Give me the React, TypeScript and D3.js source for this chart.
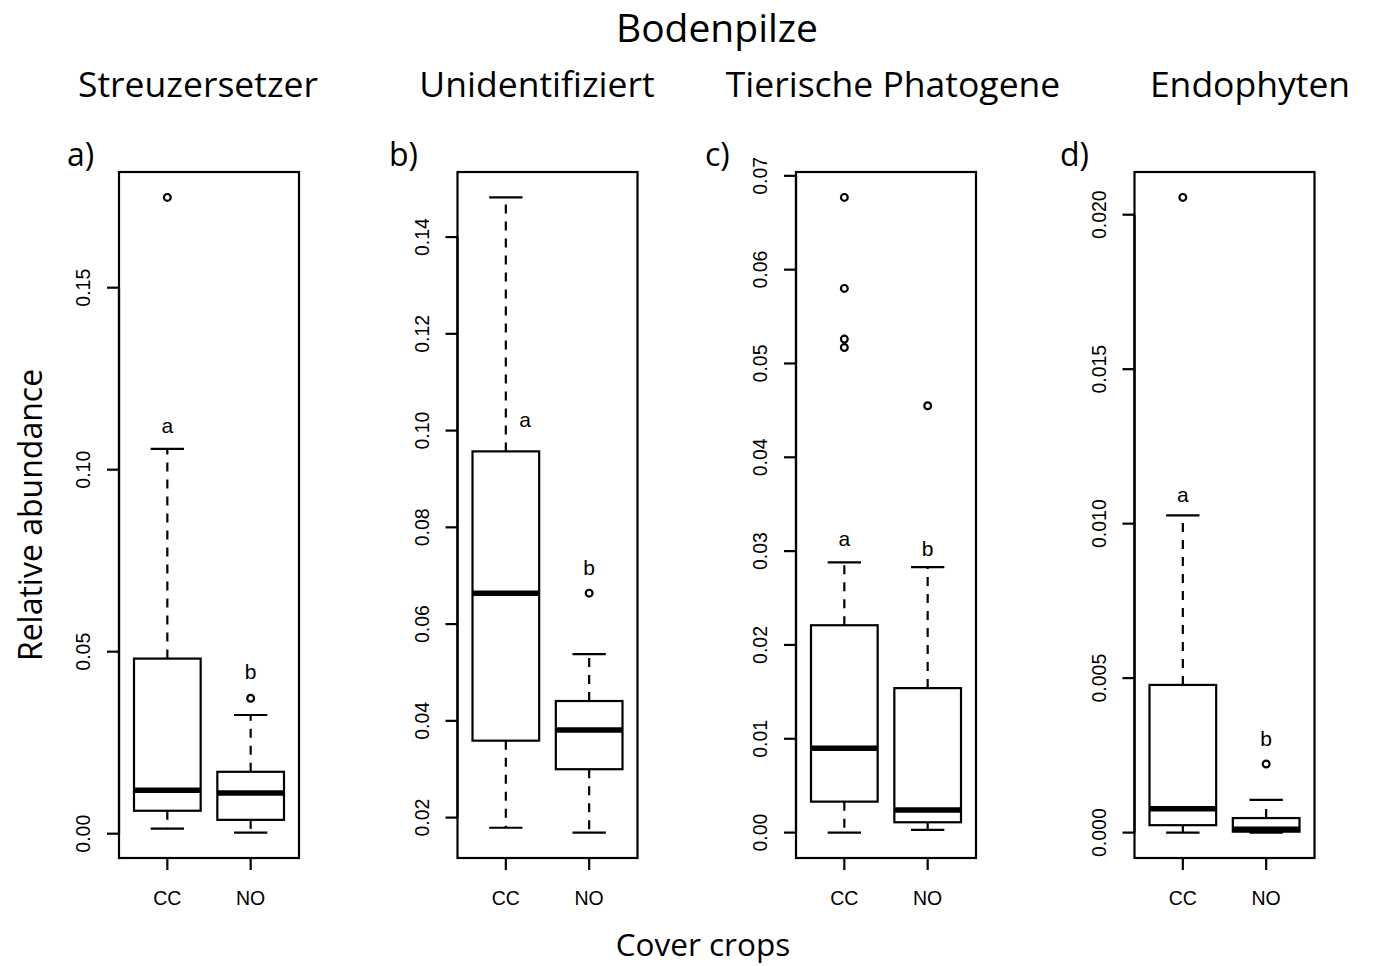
import React from "react";
import * as d3 from "d3";

// Panel headings and tags
const mainTitle = "Bodenpilze";
const panelTitles = ["Streuzersetzer", "Unidentifiziert", "Tierische Phatogene", "Endophyten"];
const panelTags = ["a)", "b)", "c)", "d)"];
const groups = ["CC", "NO"];
const yLabel = "Relative abundance";
const xLabel = "Cover crops";

// Tick values and labels per panel
const ticksA = [0, 0.05, 0.1, 0.15];
const tickLabelsA = ["0.00", "0.05", "0.10", "0.15"];
const ticksB = [0.02, 0.04, 0.06, 0.08, 0.1, 0.12, 0.14];
const tickLabelsB = ["0.02", "0.04", "0.06", "0.08", "0.10", "0.12", "0.14"];
const ticksC = [0, 0.01, 0.02, 0.03, 0.04, 0.05, 0.06, 0.07];
const tickLabelsC = ["0.00", "0.01", "0.02", "0.03", "0.04", "0.05", "0.06", "0.07"];
const ticksD = [0, 0.005, 0.01, 0.015, 0.02];
const tickLabelsD = ["0.000", "0.005", "0.010", "0.015", "0.020"];

// Box statistics: [lower whisker, Q1, median, Q3, upper whisker] for CC, NO
const statsA = [
  [0.0014, 0.0063, 0.0119, 0.0481, 0.1057],
  [0.0003, 0.0038, 0.0112, 0.017, 0.0326],
];
const statsB = [
  [0.0179, 0.0359, 0.0664, 0.0957, 0.1482],
  [0.0169, 0.03, 0.0381, 0.0441, 0.0538],
];
const statsC = [
  [0.0, 0.0033, 0.009, 0.0221, 0.0288],
  [0.0003, 0.0011, 0.0024, 0.0154, 0.0283],
];
const statsD = [
  [0.0, 0.00024, 0.00077, 0.00478, 0.01027],
  [0.0, 0.00003, 0.00011, 0.00047, 0.00106],
];

// Outliers for CC, NO
const outliersA = [[0.1748], [0.0372]];
const outliersB = [[], [0.0664]];
const outliersC = [[0.0677, 0.058, 0.0526, 0.0517], [0.0455]];
const outliersD = [[0.02056], [0.00222]];

// Significance letters (baseline value) for CC, NO
const lettersA = [["a", 0.1101], ["b", 0.0424]];
const lettersB = [["a", 0.1008], ["b", 0.0701]];
const lettersC = [["a", 0.0305], ["b", 0.0295]];
const lettersD = [["a", 0.01069], ["b", 0.00279]];
// horizontal shift of letters in group units
const letterShiftB = [0.23, 0];

const panels = [
  { ticks: ticksA, tickLabels: tickLabelsA, stats: statsA, outliers: outliersA, letters: lettersA, shift: [0, 0] },
  { ticks: ticksB, tickLabels: tickLabelsB, stats: statsB, outliers: outliersB, letters: lettersB, shift: letterShiftB },
  { ticks: ticksC, tickLabels: tickLabelsC, stats: statsC, outliers: outliersC, letters: lettersC, shift: [0, 0] },
  { ticks: ticksD, tickLabels: tickLabelsD, stats: statsD, outliers: outliersD, letters: lettersD, shift: [0, 0] },
];

const W = 1384;
const H = 966;
const frameTop = 172;
const frameBottom = 858;
const frameW = 180;
const firstLeft = 119;
const panelStep = 338.5;
const titleFont = "'Open Sans', sans-serif";
const axisFont = "'Liberation Sans', Arial, sans-serif";
const panelTitleX = [198, 537, 893, 1250];
const tagX = [67, 389, 705, 1060];
const lw = 2.2;

function Panel({ p, i }: { p: (typeof panels)[number]; i: number }) {
  const left = firstLeft + i * panelStep;
  const right = left + frameW;
  // R-style 4% axis expansion
  const x = d3.scaleLinear().domain([0.42, 2.58]).range([left, right]);
  const allVals = [...p.stats.flat(), ...p.outliers.flat()];
  const [lo, hi] = d3.extent(allVals) as [number, number];
  const pad = (hi - lo) * 0.04;
  const y = d3.scaleLinear().domain([lo - pad, hi + pad]).range([frameBottom, frameTop]);
  const boxW = x(1.4) - x(0.6);
  const capW = boxW / 2;

  return (
    <g>
      {/* y axis */}
      <line x1={left} x2={left} y1={y(p.ticks[0])} y2={y(p.ticks[p.ticks.length - 1])} stroke="#000" strokeWidth={lw} />
      {p.ticks.map((t, k) => (
        <g key={k}>
          <line x1={left - 12} x2={left} y1={y(t)} y2={y(t)} stroke="#000" strokeWidth={lw} />
          <text
            transform={`translate(${left - 29},${y(t)}) rotate(-90)`}
            textAnchor="middle"
            fontFamily={axisFont}
            fontSize={19.5}
            fill="#000"
          >
            {p.tickLabels[k]}
          </text>
        </g>
      ))}
      {/* x axis ticks */}
      {groups.map((g, k) => (
        <g key={g}>
          <line x1={x(k + 1)} x2={x(k + 1)} y1={frameBottom} y2={frameBottom + 12} stroke="#000" strokeWidth={lw} />
          <text x={x(k + 1)} y={905} textAnchor="middle" fontFamily={axisFont} fontSize={19.5} fill="#000">
            {g}
          </text>
        </g>
      ))}
      {/* boxes */}
      {p.stats.map((s, k) => {
        const cx = x(k + 1);
        const [wl, q1, med, q3, wh] = s;
        return (
          <g key={k}>
            <line x1={cx} x2={cx} y1={y(q3)} y2={y(wh)} stroke="#000" strokeWidth={lw} strokeDasharray="9,8" />
            <line x1={cx} x2={cx} y1={y(q1)} y2={y(wl)} stroke="#000" strokeWidth={lw} strokeDasharray="9,8" />
            <line x1={cx - capW / 2} x2={cx + capW / 2} y1={y(wh)} y2={y(wh)} stroke="#000" strokeWidth={lw} />
            <line x1={cx - capW / 2} x2={cx + capW / 2} y1={y(wl)} y2={y(wl)} stroke="#000" strokeWidth={lw} />
            <rect x={cx - boxW / 2} y={y(q3)} width={boxW} height={y(q1) - y(q3)} fill="#fff" stroke="#000" strokeWidth={lw} />
            <line x1={cx - boxW / 2} x2={cx + boxW / 2} y1={y(med)} y2={y(med)} stroke="#000" strokeWidth={5.5} />
            {p.outliers[k].map((o, m) => (
              <circle key={m} cx={cx} cy={y(o)} r={3.4} fill="none" stroke="#000" strokeWidth={lw} />
            ))}
            <text
              x={x(k + 1 + p.shift[k])}
              y={y(p.letters[k][1] as number)}
              textAnchor="middle"
              fontFamily={axisFont}
              fontSize={21}
              fill="#000"
            >
              {p.letters[k][0]}
            </text>
          </g>
        );
      })}
      {/* frame */}
      <rect x={left} y={frameTop} width={frameW} height={frameBottom - frameTop} fill="none" stroke="#000" strokeWidth={lw} />
      {/* headings */}
      <text x={panelTitleX[i]} y={97} textAnchor="middle" fontFamily={titleFont} fontSize={35.5} fill="#000">
        {panelTitles[i]}
      </text>
      <text x={tagX[i]} y={166} fontFamily={titleFont} fontSize={32} fill="#000">
        {panelTags[i]}
      </text>
    </g>
  );
}

export default function App() {
  return (
    <svg
      width={W}
      height={H}
      viewBox={`0 0 ${W} ${H}`}
      style={{ position: "absolute", left: 0, top: 0, background: "#fff" }}
    >
      <rect x={0} y={0} width={W} height={H} fill="#fff" />
      <text x={717} y={42} textAnchor="middle" fontFamily={titleFont} fontSize={39} fill="#000">
        {mainTitle}
      </text>
      {panels.map((p, i) => (
        <Panel key={i} p={p} i={i} />
      ))}
      <text transform="translate(42,515) rotate(-90)" textAnchor="middle" fontFamily={titleFont} fontSize={32} fill="#000">
        {yLabel}
      </text>
      <text x={703} y={956} textAnchor="middle" fontFamily={titleFont} fontSize={31.5} fill="#000">
        {xLabel}
      </text>
    </svg>
  );
}
